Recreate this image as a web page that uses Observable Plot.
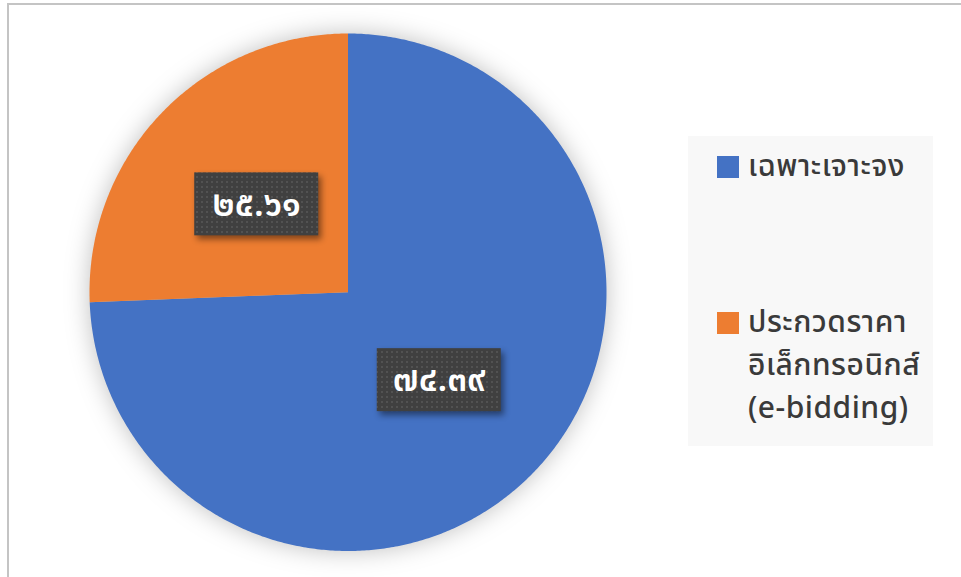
<!DOCTYPE html>
<html>
<head>
<meta charset="utf-8">
<script src="https://cdn.jsdelivr.net/npm/d3@7"></script>
<script src="https://cdn.jsdelivr.net/npm/@observablehq/plot@0.6"></script>
<style>
  html, body { margin: 0; padding: 0; background: #fff; }
  #wrap { position: relative; width: 961px; height: 577px; overflow: hidden; font-family: "Noto Sans Thai", "Noto Sans", "DejaVu Sans", sans-serif; }
  #frame { position: absolute; left: 7px; top: 3px; width: 960px; height: 600px; border-left: 2px solid #c4c4c4; border-top: 2px solid #c4c4c4; box-sizing: border-box; }
  #chart { position: absolute; left: 0; top: 0; }
  #legend { position: absolute; left: 688px; top: 136px; width: 245px; height: 310px; background: #f8f8f8; color: #3a3a3a; font-size: 30px; font-weight: 500; }
  .item { position: absolute; left: 29px; }
  .sw { position: absolute; left: 0; width: 22px; height: 22px; }
  .lab { position: absolute; left: 31px; white-space: nowrap; line-height: 43px; letter-spacing: 0.5px; }
</style>
</head>
<body>
<div id="wrap">
  <div id="frame"></div>
  <div id="chart"></div>
  <div id="legend"></div>
</div>
<script>
// Data
const categories = ["เฉพาะเจาะจง", "ประกวดราคาอิเล็กทรอนิกส์ (e-bidding)"];
const legendLines = [["เฉพาะเจาะจง"], ["ประกวดราคา", "อิเล็กทรอนิกส์", "(e-bidding)"]];
const values = [74.39, 25.61];
const valueLabels = ["๗๔.๓๙", "๒๕.๖๑"];
const colors = ["#4472C4", "#ED7D31"];

// Slices: start at 12 o'clock, clockwise
const total = d3.sum(values);
const polys = [];
const labels = [];
let acc = 0;
values.forEach((v, i) => {
  const a0 = acc / total * 2 * Math.PI;
  acc += v;
  const a1 = acc / total * 2 * Math.PI;
  const n = Math.max(2, Math.ceil((a1 - a0) / (Math.PI / 360)));
  polys.push({cat: categories[i], x: 0, y: 0, i});
  for (let k = 0; k <= n; k++) {
    const a = a0 + (a1 - a0) * k / n;
    polys.push({cat: categories[i], x: Math.sin(a), y: Math.cos(a), i});
  }
  const am = (a0 + a1) / 2;
  labels.push({text: valueLabels[i], x: 0.49 * Math.sin(am), y: 0.49 * Math.cos(am)});
});

const chart = Plot.plot({
  width: 961,
  height: 577,
  x: {domain: [-1, 1], range: [89, 606], axis: null},
  y: {domain: [-1, 1], range: [550.5, 33], axis: null},
  color: {domain: categories, range: colors},
  marks: [
    Plot.line(polys, {x: "x", y: "y", z: "cat", fill: "cat", stroke: "none", curve: "linear"}),
    Plot.rect(labels, {x1: "x", x2: "x", y1: "y", y2: "y", insetLeft: -62, insetRight: -62, insetTop: -31.5, insetBottom: -31.5, fill: "url(#dots)"}),
    Plot.text(labels, {x: "x", y: "y", text: "text", fill: "white", fontSize: 35, fontWeight: 600, dy: 0})
  ],
  style: {background: "transparent", fontFamily: '"Noto Sans Thai", "Noto Sans", sans-serif', overflow: "visible"}
});

// pattern & shadows
const ns = "http://www.w3.org/2000/svg";
const defs = document.createElementNS(ns, "defs");
defs.innerHTML = `
  <pattern id="dots" width="5" height="5" patternUnits="userSpaceOnUse">
    <rect width="5" height="5" fill="#404040"/>
    <rect x="1" y="1" width="2" height="2" fill="#525252"/>
  </pattern>`;
chart.insertBefore(defs, chart.firstChild);
chart.querySelectorAll('g[aria-label="line"]').forEach(g => g.style.filter = "drop-shadow(0 0 12px rgba(0,0,0,0.25))");
chart.querySelectorAll('g[aria-label="rect"] rect').forEach(r => r.style.filter = "drop-shadow(3px 4px 3px rgba(0,0,0,0.45))");
document.getElementById("chart").appendChild(chart);

// Legend
const legend = document.getElementById("legend");
const itemTops = [20, 176];
legendLines.forEach((lines, i) => {
  const it = document.createElement("div");
  it.className = "item";
  it.style.top = itemTops[i] + "px";
  const sw = document.createElement("div");
  sw.className = "sw";
  sw.style.background = colors[i];
  it.appendChild(sw);
  lines.forEach((t, j) => {
    const l = document.createElement("div");
    l.className = "lab";
    l.style.top = (-10 + j * 43) + "px";
    l.textContent = t;
    it.appendChild(l);
  });
  legend.appendChild(it);
});
</script>
</body>
</html>
